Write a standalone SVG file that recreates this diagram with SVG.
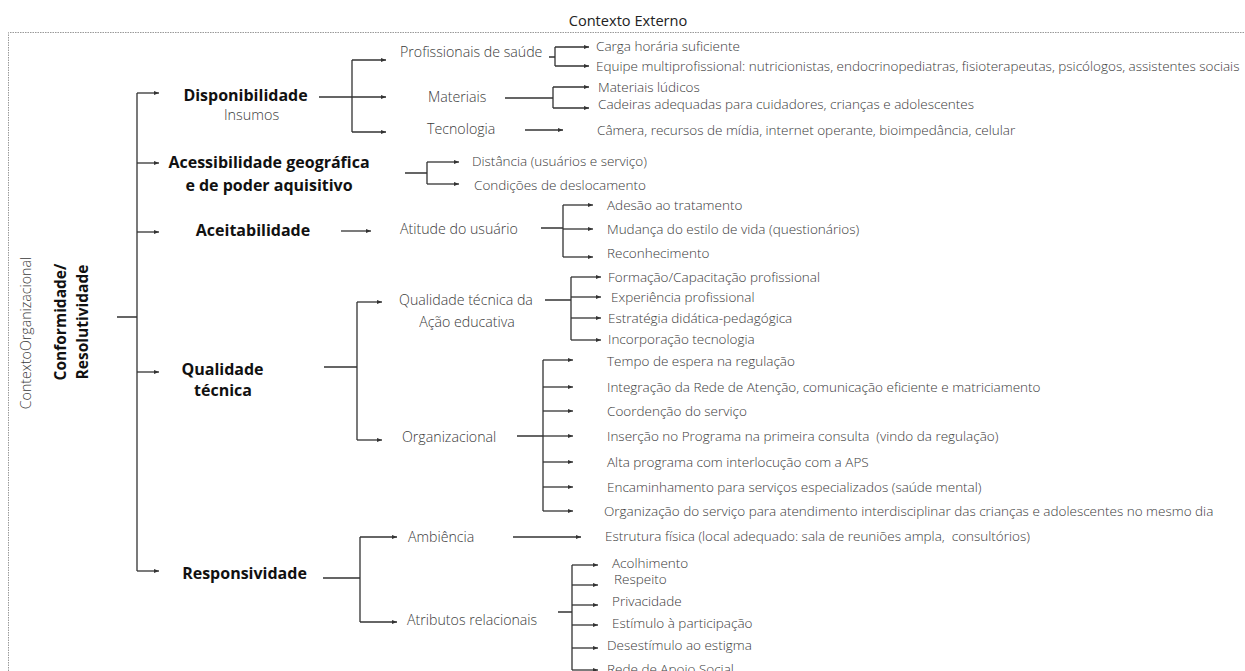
<svg xmlns="http://www.w3.org/2000/svg" width="1245" height="671" viewBox="0 0 1245 671">
<defs>
<marker id="ah" markerUnits="userSpaceOnUse" markerWidth="6" markerHeight="6" viewBox="0 0 6 6" refX="5" refY="3" orient="auto">
<path d="M0,1 L5,3 L0,5 Z" fill="#333"/>
</marker>
</defs>
<style>
.g{font-family:"Open Sans","Liberation Sans",sans-serif;font-weight:300;font-size:13.5px;fill:#3a3a3a;white-space:pre}
.l2{font-size:14.2px}
.b{font-family:"Open Sans","Liberation Sans",sans-serif;font-weight:700;font-size:16px;fill:#111}
.r{font-size:15.5px}
.m{text-anchor:middle}
.ln{fill:none;stroke:#333;stroke-width:1.3}
.ar{fill:none;stroke:#333;stroke-width:1.3;marker-end:url(#ah)}
.frame{fill:none;stroke:#999;stroke-width:1;stroke-dasharray:1.5 1}
</style>
<rect width="1245" height="671" fill="#fff"/>
<g id="frame">
<path class="frame" d="M8.5,671 V32.5 H1245"/>
<text class="g m" x="628" y="26" style="fill:#222;font-weight:400;font-size:14.6px">Contexto Externo</text>
<text class="g l2 m" transform="translate(31,333) rotate(-90)">ContextoOrganizacional</text>
</g>
<g id="connectors">
<path class="ln" d="M117,317 H137 M137,93 V571"/>
<path class="ar" d="M137,93 H159"/>
<path class="ar" d="M137,163 H159"/>
<path class="ar" d="M137,232 H159"/>
<path class="ar" d="M137,372 H159"/>
<path class="ar" d="M137,571 H159"/>
<path class="ln" d="M319,97 H352 M352,60 V132"/>
<path class="ar" d="M352,60 H386"/>
<path class="ar" d="M352,97 H386"/>
<path class="ar" d="M352,132 H386"/>
<path class="ln" d="M549,57 H555 M555,47 V66"/>
<path class="ar" d="M555,47 H589"/>
<path class="ar" d="M555,66 H589"/>
<path class="ln" d="M505,98 H553 M553,87 V108"/>
<path class="ar" d="M553,87 H589"/>
<path class="ar" d="M553,108 H589"/>
<path class="ar" d="M525,130 H563"/>
<path class="ln" d="M405,173 H427 M427,162 V184"/>
<path class="ar" d="M427,162 H459"/>
<path class="ar" d="M427,184 H459"/>
<path class="ar" d="M341,231 H371"/>
<path class="ln" d="M541,228 H563 M563,205 V257"/>
<path class="ar" d="M563,205 H593"/>
<path class="ar" d="M563,229 H593"/>
<path class="ar" d="M563,257 H593"/>
<path class="ln" d="M324,367 H357 M357,302 V440"/>
<path class="ar" d="M357,302 H382"/>
<path class="ar" d="M357,440 H382"/>
<path class="ln" d="M545,300 H571 M571,277 V340"/>
<path class="ar" d="M571,277 H601"/>
<path class="ar" d="M571,297 H601"/>
<path class="ar" d="M571,318 H601"/>
<path class="ar" d="M571,340 H601"/>
<path class="ln" d="M517,436 H543 M543,360 V511"/>
<path class="ar" d="M543,360 H573"/>
<path class="ar" d="M543,387 H573"/>
<path class="ar" d="M543,411 H573"/>
<path class="ar" d="M543,436 H573"/>
<path class="ar" d="M543,462 H573"/>
<path class="ar" d="M543,487 H573"/>
<path class="ar" d="M543,511 H573"/>
<path class="ln" d="M323,578 H360 M360,537 V622"/>
<path class="ar" d="M360,537 H397"/>
<path class="ar" d="M360,622 H397"/>
<path class="ar" d="M513,537 H581"/>
<path class="ln" d="M558,612 H572 M572,565 V670"/>
<path class="ar" d="M572,565 H598"/>
<path class="ar" d="M572,585 H598"/>
<path class="ar" d="M572,605 H598"/>
<path class="ar" d="M572,625 H598"/>
<path class="ar" d="M572,648 H598"/>
<path class="ar" d="M572,670 H598"/>
</g>
<g id="root">
<text class="b r m" transform="translate(66,322) rotate(-90)">Conformidade/</text>
<text class="b r m" transform="translate(88,322) rotate(-90)">Resolutividade</text>
</g>
<g id="disponibilidade">
<text class="b m" x="245.5" y="101">Disponibilidade</text>
<text class="g m" x="251.5" y="119.5" style="font-size:14.4px">Insumos</text>
</g>
<g id="profissionais">
<text class="g l2" x="400" y="57">Profissionais de saúde</text>
<text class="g" x="596" y="51">Carga horária suficiente</text>
<text class="g" x="596" y="71">Equipe multiprofissional: nutricionistas, endocrinopediatras, fisioterapeutas, psicólogos, assistentes sociais</text>
</g>
<g id="materiais">
<text class="g l2" x="428" y="102">Materiais</text>
<text class="g" x="598" y="92">Materiais lúdicos</text>
<text class="g" x="598" y="109">Cadeiras adequadas para cuidadores, crianças e adolescentes</text>
</g>
<g id="tecnologia">
<text class="g l2" x="427" y="134">Tecnologia</text>
<text class="g" x="597" y="135">Câmera, recursos de mídia, internet operante, bioimpedância, celular</text>
</g>
<g id="acessibilidade">
<text class="b m" x="269" y="168">Acessibilidade geográfica</text>
<text class="b m" x="269" y="191">e de poder aquisitivo</text>
<text class="g" x="472" y="166">Distância (usuários e serviço)</text>
<text class="g" x="474" y="190">Condições de deslocamento</text>
</g>
<g id="aceitabilidade">
<text class="b m" x="253" y="236">Aceitabilidade</text>
<text class="g l2" x="400" y="234">Atitude do usuário</text>
<text class="g" x="607" y="210">Adesão ao tratamento</text>
<text class="g" x="607" y="234">Mudança do estilo de vida (questionários)</text>
<text class="g" x="607" y="258">Reconhecimento</text>
</g>
<g id="qualidade">
<text class="b m" x="222.5" y="375">Qualidade</text>
<text class="b m" x="223" y="396">técnica</text>
</g>
<g id="acao-educativa">
<text class="g l2 m" x="466" y="305">Qualidade técnica da</text>
<text class="g l2 m" x="467" y="327">Ação educativa</text>
<text class="g" x="608" y="282">Formação/Capacitação profissional</text>
<text class="g" x="611" y="302">Experiência profissional</text>
<text class="g" x="608" y="323">Estratégia didática-pedagógica</text>
<text class="g" x="608" y="344">Incorporação tecnologia</text>
</g>
<g id="organizacional">
<text class="g l2" x="402" y="442">Organizacional</text>
<text class="g" x="607" y="366">Tempo de espera na regulação</text>
<text class="g" x="607" y="392">Integração da Rede de Atenção, comunicação eficiente e matriciamento</text>
<text class="g" x="607" y="416">Coordenção do serviço</text>
<text class="g" x="607" y="441">Inserção no Programa na primeira consulta  (vindo da regulação)</text>
<text class="g" x="607" y="467">Alta programa com interlocução com a APS</text>
<text class="g" x="607" y="492">Encaminhamento para serviços especializados (saúde mental)</text>
<text class="g" x="604" y="516">Organização do serviço para atendimento interdisciplinar das crianças e adolescentes no mesmo dia</text>
</g>
<g id="responsividade">
<text class="b m" x="244.5" y="579">Responsividade</text>
<text class="g l2" x="408" y="542">Ambiência</text>
<text class="g" x="605" y="541">Estrutura física (local adequado: sala de reuniões ampla,  consultórios)</text>
<text class="g l2" x="407" y="625">Atributos relacionais</text>
<text class="g" x="612" y="568">Acolhimento</text>
<text class="g" x="614" y="584">Respeito</text>
<text class="g" x="612" y="606">Privacidade</text>
<text class="g" x="612" y="628">Estímulo à participação</text>
<text class="g" x="607" y="650">Desestímulo ao estigma</text>
<text class="g" x="607" y="674">Rede de Apoio Social</text>
</g>
</svg>
